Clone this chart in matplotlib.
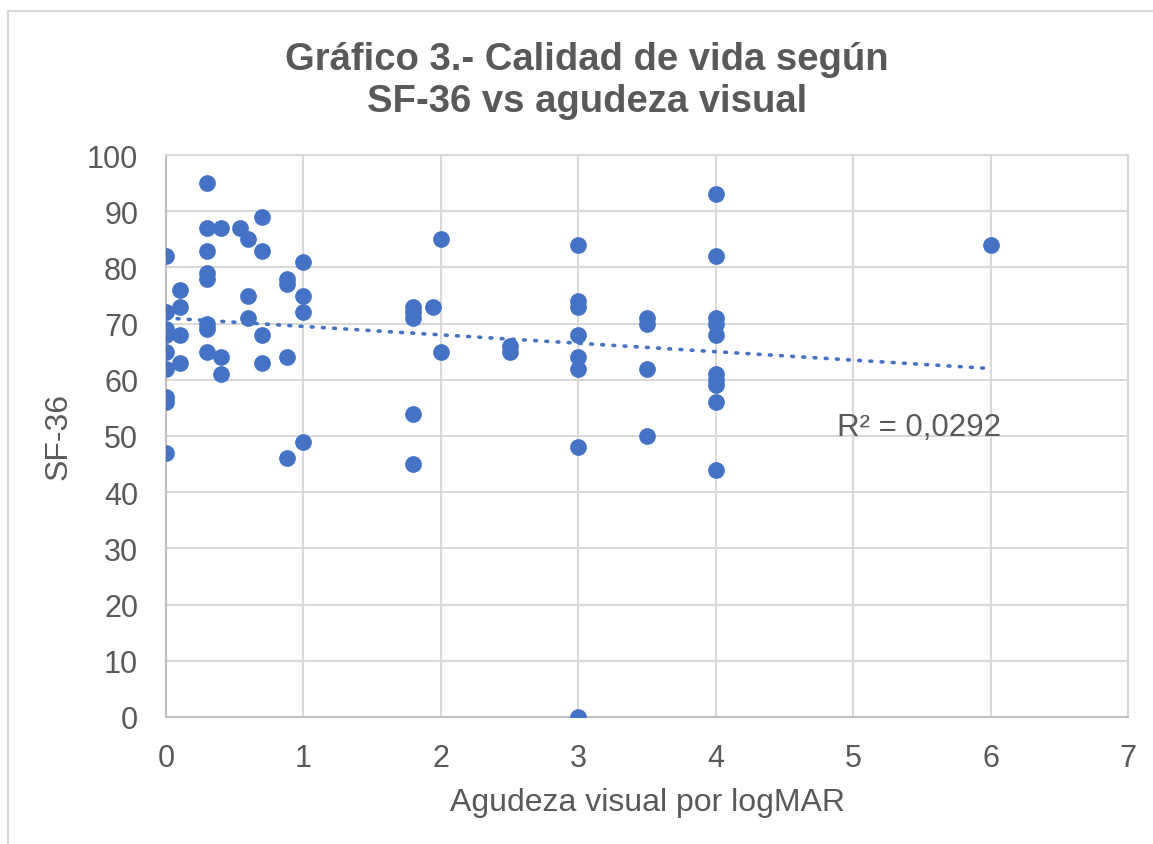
import numpy as np
import matplotlib.pyplot as plt
from matplotlib.patches import Rectangle

plt.rcParams['font.family'] = ['Liberation Sans', 'DejaVu Sans']

# agudeza visual (logMAR) y puntuacion SF-36
logmar = [0, 0, 0, 0, 0, 0, 0, 0, 0,
          0.1, 0.1, 0.1, 0.1,
          0.3, 0.3, 0.3, 0.3, 0.3, 0.3, 0.3, 0.3,
          0.4, 0.4, 0.4,
          0.54,
          0.6, 0.6, 0.6,
          0.7, 0.7, 0.7, 0.7,
          0.88, 0.88, 0.88, 0.88,
          1.0, 1.0, 1.0, 1.0,
          1.8, 1.8, 1.8, 1.8, 1.8,
          1.94,
          2.0, 2.0,
          2.5, 2.5,
          3.0, 3.0, 3.0, 3.0, 3.0, 3.0, 3.0, 3.0,
          3.5, 3.5, 3.5, 3.5,
          4.0, 4.0, 4.0, 4.0, 4.0, 4.0, 4.0, 4.0, 4.0, 4.0,
          6.0]
sf36 = [82, 72, 69, 68, 65, 62, 57, 56, 47,
        76, 73, 68, 63,
        95, 87, 83, 79, 78, 70, 69, 65,
        87, 64, 61,
        87,
        85, 75, 71,
        89, 83, 68, 63,
        78, 77, 64, 46,
        81, 75, 72, 49,
        73, 72, 71, 54, 45,
        73,
        85, 65,
        66, 65,
        84, 74, 73, 68, 64, 62, 48, 0,
        71, 70, 62, 50,
        93, 82, 71, 70, 68, 61, 60, 59, 56, 44,
        84]

x_ticks = [0, 1, 2, 3, 4, 5, 6, 7]
y_ticks = [0, 10, 20, 30, 40, 50, 60, 70, 80, 90, 100]
r2_label = 'R² = 0,0292'

blue = '#4472C4'
text_gray = '#595959'
grid_gray = '#D9D9D9'

fig = plt.figure(figsize=(11.53, 8.45), dpi=100)
fig.patches.append(Rectangle((8 / 1153, -0.1), 1.1, 1 - 12 / 845 + 0.1,
                             transform=fig.transFigure, fill=False,
                             edgecolor=grid_gray, linewidth=1.5))
ax = fig.add_axes([166 / 1153, 1 - 718 / 845, (1128 - 166) / 1153, (718 - 156) / 845])

x = np.array(logmar)
y = np.array(sf36)
ax.scatter(x, y, s=145, color=blue, zorder=3, linewidths=0)

# linea de tendencia lineal
m, b = np.polyfit(x, y, 1)
xt = np.array([x.min(), x.max()])
ax.plot(xt, m * xt + b, color=blue, linestyle=(0, (0.5, 2.6)), linewidth=2.6,
        dash_capstyle='round', zorder=2)

ax.text(4.88, 51.6, r2_label, fontsize=22.5, color=text_gray, ha='left', va='center')

ax.set_xlim(0, 7)
ax.set_ylim(0, 100)
ax.set_xticks(x_ticks)
ax.set_yticks(y_ticks)
ax.grid(True, color=grid_gray, linewidth=1.5)
ax.set_axisbelow(True)
ax.tick_params(length=0, labelsize=22, labelcolor=text_gray)
ax.tick_params(axis='y', pad=20)
ax.tick_params(axis='x', pad=19)
for side in ['top', 'right']:
    ax.spines[side].set_color(grid_gray)
    ax.spines[side].set_linewidth(1.5)
for side in ['left', 'bottom']:
    ax.spines[side].set_color('#BFBFBF')
    ax.spines[side].set_linewidth(1.5)

ax.set_xlabel('Agudeza visual por logMAR', fontsize=23, color=text_gray, labelpad=10)
ax.set_ylabel('SF-36', fontsize=23, color=text_gray, labelpad=10)

fig.text(587 / 1153, 1 - 81 / 845, 'Gráfico 3.- Calidad de vida según\nSF-36 vs agudeza visual',
         ha='center', va='center', fontsize=27.5, fontweight='bold', color=text_gray,
         linespacing=1.2)

fig.savefig('out.png', dpi=100)
